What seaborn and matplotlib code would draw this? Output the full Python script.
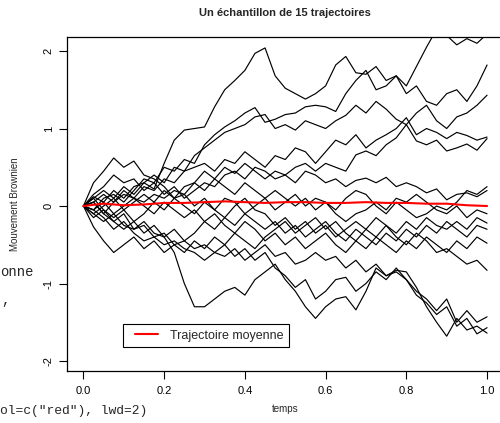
import numpy as np
import pandas as pd
import matplotlib
matplotlib.use("Agg")
import matplotlib.pyplot as plt
import seaborn as sns
from matplotlib.lines import Line2D
from matplotlib.legend_handler import HandlerLine2D

# ---------------- data ----------------
temps = [round(i * 0.025, 3) for i in range(41)]

traj_01 = [0, .12, .05, .2, .1, .25, .3, .22, .55, .85, .98, 1.0, 1.02, 1.28, 1.5, 1.62, 1.75, 1.97, 2.04, 1.68,
           1.52, 1.45, 1.38, 1.45, 1.55, 1.82, 1.93, 1.72, 1.7, 1.8, 1.62, 1.68, 1.55, 1.8, 2.05, 2.28, 2.2, 2.08,
           2.16, 2.1, 2.22]
traj_02 = [0, -.05, .1, .15, .05, .2, .35, .3, .5, .45, .6, .55, .79, .92, 1.02, 1.1, 1.2, 1.27, 1.08, 1.12,
           1.18, 1.2, 1.28, 1.3, 1.28, 1.22, 1.45, 1.62, 1.75, 1.5, 1.55, 1.68, 1.45, 1.55, 1.35, 1.3, 1.45, 1.5,
           1.35, 1.55, 1.82]
traj_03 = [0, .1, .2, .1, .25, .15, .3, .4, .3, .5, .45, .65, .75, .85, .95, 1.0, 1.05, 1.15, 1.18, 1.0,
           1.05, .98, 1.1, 1.05, 1.0, 1.1, 1.17, 1.3, 1.2, 1.35, 1.25, 1.12, 1.05, 1.2, 1.3, 1.1, 1.0, 1.15,
           1.2, 1.3, 1.43]
traj_04 = [0, .05, -.1, .05, .15, .1, .25, .2, .35, .3, .45, .5, .55, .45, .6, .55, .7, .6, .5, .65,
           .6, .75, .7, .55, .7, .85, .79, .92, .75, .85, .92, 1.0, 1.14, .92, 1.0, .95, .87, .95, .91, .85, .89]
traj_05 = [0, -.05, .05, -.1, 0, .1, .05, .15, .1, .2, .15, .3, .45, .35, .5, .42, .55, .45, .35, .45,
           .4, .5, .55, .45, .55, .5, .45, .66, .71, .65, .79, .88, 1.05, .84, .79, .85, .71, .75, .8, .72, .87]
traj_06 = [0, .15, .25, .4, .3, .35, .2, .3, .15, .25, .1, .2, .3, .25, .4, .45, .35, .5, .45, .35,
           .4, .3, .45, .4, .3, .35, .25, .33, .36, .3, .37, .25, .3, .25, .17, .22, .08, .15, .17, .12, .2]
traj_07 = [0, .3, .45, .62, .5, .58, .4, .35, .25, .1, .15, 0, .1, -.05, .1, .05, -.1, 0, .1, -.05,
           .05, .15, 0, .1, .05, -.05, .1, .2, .15, 0, -.1, .05, -.05, -.15, -.1, 0, -.05, .05, .2, .15, .25]
traj_08 = [0, -.1, 0, .1, -.05, .05, .15, .05, .2, .1, .25, .3, .2, .35, .25, .15, .3, .2, .1, .2,
           .1, 0, .1, -.05, .05, -.1, -.2, -.1, -.05, .05, -.05, .1, .05, .15, .05, -.05, -.1, 0, -.15, -.05, -.1]
traj_09 = [0, .1, -.05, -.15, -.05, -.2, -.1, .05, -.05, .1, 0, -.1, .05, -.05, -.15, 0, .1, -.05, -.1, -.25,
           -.15, -.3, -.2, -.35, -.25, -.4, -.3, -.2, -.3, -.15, -.25, -.35, -.2, -.3, -.15, -.25, -.3, -.2,
           -.3, -.15, -.22]
traj_10 = [0, -.15, -.05, -.2, -.3, -.2, -.35, -.25, -.4, -.3, -.45, -.35, -.2, -.3, -.15, -.25, -.1, -.2,
           -.3, -.2, -.35, -.25, -.4, -.3, -.2, -.35, -.45, -.3, -.4, -.5, -.35, -.45, -.3, -.4, -.25, -.35,
           -.2, -.3, -.4, -.25, -.3]
traj_11 = [0, .05, .15, .05, .2, .1, 0, -.1, .05, -.05, -.15, -.05, -.2, -.1, -.25, -.35, -.2, -.3, -.45,
           -.35, -.5, -.4, -.55, -.45, -.35, -.5, -.6, -.45, -.55, -.4, -.5, -.6, -.45, -.55, -.4, -.5, -.6,
           -.45, -.55, -.4, -.48]
traj_12 = [0, -.27, -.45, -.6, -.5, -.4, -.55, -.45, -.6, -.5, -.6, -.45, -.55, -.4, -.5, -.35, -.45, -.55,
           -.4, -.3, -.2, -.35, -.25, -.15, -.3, -.2, -.35, -.45, -.3, -.4, -.25, -.4, -.5, -.35, -.45, -.6,
           -.55, -.65, -.75, -.7, -.83]
traj_13 = [0, -.1, -.2, -.1, -.25, -.3, -.2, -.35, -.4, -.6, -1.0, -1.3, -1.3, -1.2, -1.1, -1.05, -1.15,
           -.95, -.85, -.75, -.95, -1.1, -1.3, -1.45, -1.3, -1.2, -1.17, -1.34, -1.1, -.8, -.9, -.83, -.85,
           -1.05, -1.3, -1.5, -1.68, -1.45, -1.6, -1.55, -1.64]
traj_14 = [0, .05, -.1, -.2, -.1, -.3, -.25, -.4, -.35, -.5, -.45, -.55, -.5, -.6, -.5, -.65, -.55, -.7,
           -.6, -.8, -.9, -1.05, -.95, -1.2, -1.1, -.95, -.92, -1.1, -1.0, -.85, -.95, -.8, -.95, -1.15,
           -1.25, -1.4, -1.3, -1.55, -1.45, -1.65, -1.57]
traj_15 = [0, -.05, -.15, -.3, -.2, -.35, -.45, -.4, -.5, -.45, -.55, -.6, -.7, -.6, -.65, -.55, -.7, -.6,
           -.5, -.65, -.6, -.75, -.7, -.6, -.7, -.65, -.8, -.7, -.85, -.75, -.9, -.85, -.95, -1.1, -1.2,
           -1.35, -1.2, -1.5, -1.35, -1.5, -1.43]

moyenne_temps = [0, .05, .1, .15, .2, .25, .3, .35, .4, .45, .5, .55, .6, .65, .7, .75, .8, .85, .9, .95, 1.0]
moyenne_valeurs = [0, .03, .01, .02, .04, .04, .05, .06, .05, .04, .05, .05, .04, .04, .05, .04, .04, .03,
                   .03, .01, 0]

x_ticks = [0.0, 0.2, 0.4, 0.6, 0.8, 1.0]
x_tick_labels = ["0.0", "0.2", "0.4", "0.6", "0.8", "1.0"]
y_ticks = [-2, -1, 0, 1, 2]
y_tick_labels = ["-2", "-1", "0", "1", "2"]

titre = "Un échantillon de 15 trajectoires"
label_x = "temps"
label_y = "Mouvement Brownien"
label_moyenne = "Trajectoire moyenne"

# ---------------- long-form table ----------------
trajectoires = [traj_01, traj_02, traj_03, traj_04, traj_05, traj_06, traj_07, traj_08,
                traj_09, traj_10, traj_11, traj_12, traj_13, traj_14, traj_15]
rows = []
for k, vals in enumerate(trajectoires):
    for t, v in zip(temps, vals):
        rows.append({"temps": t, "valeur": v, "trajectoire": k})
df = pd.DataFrame(rows)
df_moy = pd.DataFrame({"temps": moyenne_temps, "valeur": moyenne_valeurs})

# ---------------- figure ----------------
sns.set_theme(style="white")
plt.rcParams["font.family"] = ["Liberation Sans", "DejaVu Sans"]

W, H = 500, 423
fig = plt.figure(figsize=(W / 100, H / 100), dpi=100)
# axes box in pixels: left 67, right 503 (outside figure), top 37, bottom 371
ax = fig.add_axes([67 / W, (H - 371) / H, 436 / W, (371 - 37) / H])
ax.set_facecolor("white")

sns.lineplot(data=df, x="temps", y="valeur", units="trajectoire", estimator=None,
             color="black", linewidth=0.85, ax=ax, legend=False)
sns.lineplot(data=df_moy, x="temps", y="valeur", color="red", linewidth=1.5, ax=ax,
             legend=False)

ax.set_xlim(-0.0407, 1.0395)
ax.set_ylim(-2.129, 2.181)

ax.set_xticks(x_ticks)
ax.set_xticklabels(x_tick_labels)
ax.set_yticks(y_ticks)
ax.set_yticklabels(y_tick_labels, rotation=90, va="center")

ax.tick_params(axis="both", direction="out", length=5.5, width=0.8, colors="black",
               labelsize=8, bottom=True, left=True)
ax.tick_params(axis="x", pad=5.5)
ax.tick_params(axis="y", pad=4)

for s in ax.spines.values():
    s.set_color("black")
    s.set_linewidth(0.9)
    s.set_visible(True)

ax.set_title(titre, fontsize=8, fontweight="bold", pad=15)

ax.set_xlabel(label_x, fontsize=7)
ax.set_ylabel(label_y, fontsize=7)
ax.xaxis.set_label_coords(0.5, (371 - 404) / (371 - 37))
ax.yaxis.set_label_coords((20 - 67) / 436, 0.5)

handle = Line2D([], [], color="red", linewidth=1.5)
leg = ax.legend([handle], [label_moyenne], loc="lower left",
                bbox_to_anchor=((123 - 67) / 436, (371 - 347) / (371 - 37)),
                borderaxespad=0, fontsize=9, frameon=True, fancybox=False,
                borderpad=0.44, handlelength=2.36, handletextpad=0.96,
                handler_map={Line2D: HandlerLine2D(xpad=0.52)})
leg.get_frame().set_edgecolor("black")
leg.get_frame().set_linewidth(0.8)
leg.get_frame().set_facecolor("white")
leg.get_frame().set_alpha(1)

# console text left over at the left edge of the screenshot
mono = ["Liberation Mono", "DejaVu Sans Mono"]
fig.text(0 / W, 1 - 272 / H, "onne", family=mono, fontsize=10, ha="left", va="center")
fig.text(1 / W, 1 - 300 / H, ",", family=mono, fontsize=10, ha="left", va="center")
fig.text(0 / W, 1 - 414 / H, 'ol=c("red"), lwd=2)', family=mono, fontsize=9.4,
         ha="left", va="baseline")

fig.savefig("out.png", dpi=100)
